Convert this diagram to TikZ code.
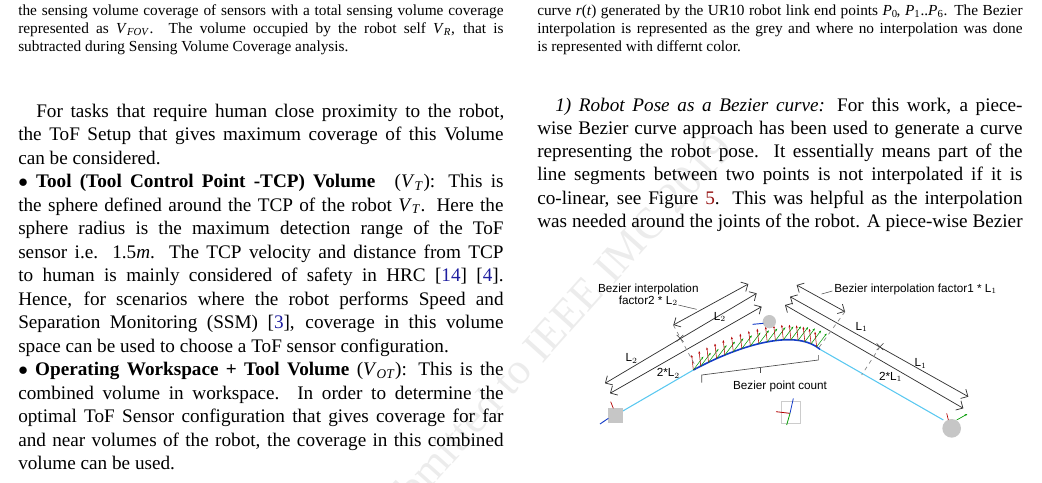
\documentclass[tikz,border=0pt]{standalone}
\usepackage{fontspec}
\setmainfont{Liberation Serif}
\newfontfamily\figsans{Liberation Sans}
\usetikzlibrary{arrows.meta}
\definecolor{refblue}{RGB}{30,30,160}
\definecolor{refred}{RGB}{150,20,20}
\definecolor{cyanl}{RGB}{90,200,240}
\definecolor{blued}{RGB}{20,60,200}
\newcommand{\jl}[1]{\makebox[364pt][s]{#1}}
\newcommand{\jr}[1]{\makebox[364pt][s]{#1}}
\newcommand{\vv}[2]{\textit{#1}\textsubscript{\textit{#2}}}
\begin{document}
\begin{tikzpicture}[x=0.75pt,y=-0.75pt,
  body/.style={anchor=base west,inner sep=0pt,font=\fontsize{14.4}{17.3}\selectfont},
  captxt/.style={anchor=base west,inner sep=0pt,font=\fontsize{11.5}{13.8}\selectfont},
  lbl/.style={inner sep=0pt,font=\figsans\fontsize{8.8}{10}\selectfont},
  dim/.style={draw=black!80,line width=0.55pt,{Straight Barb[length=4pt]}-{Straight Barb[length=4pt]}},
  dsh/.style={draw=gray,dashed,line width=0.5pt}]
\useasboundingbox (0,0) rectangle (1042,482);
% watermark
\node[rotate=48,text=gray!15,font=\fontsize{33}{33}\selectfont] (wm) at (548,335) {Submitted to IEEE IMC 2019};
% captions
\node[captxt] (c1) at (18,15) {\makebox[364pt][s]{the sensing volume coverage of sensors with a total sensing volume coverage}};
\node[captxt] (c2) at (18,33) {\makebox[364pt][s]{represented as \vv{V}{FOV}. The volume occupied by the robot self \vv{V}{R}, that is}};
\node[captxt] (c3) at (18,51) {subtracted during Sensing Volume Coverage analysis.};
\node[captxt] (d1) at (537,15) {\makebox[364pt][s]{curve \textit{r}(\textit{t}) generated by the UR10 robot link end points \vv{P}{\upshape 0}\kern-1pt, \vv{P}{\upshape 1}..\vv{P}{\upshape 6}. The Bezier}};
\node[captxt] (d2) at (537,33) {\makebox[364pt][s]{interpolation is represented as the grey and where no interpolation was done}};
\node[captxt] (d3) at (537,51) {is represented with differnt color.};
% left column
\def\lb#1{117+23.5*#1}
\node[body] (l0) at (36,{\lb0}) {\makebox[351pt][s]{For tasks that require human close proximity to the robot,}};
\node[body] (l1) at (18,{\lb1}) {\jl{the ToF Setup that gives maximum coverage of this Volume}};
\node[body] (l2) at (18,{\lb2}) {can be considered.};
\node[body] (l3) at (18,{\lb3}) {\jl{$\bullet$ \textbf{Tool (Tool Control Point -TCP) Volume}\quad (\vv{V}{T}): This is}};
\node[body] (l4) at (18,{\lb4}) {\jl{the sphere defined around the TCP of the robot \vv{V}{T}. Here the}};
\node[body] (l5) at (18,{\lb5}) {\jl{sphere radius is the maximum detection range of the ToF}};
\node[body] (l6) at (18,{\lb6}) {\jl{sensor i.e. 1.5\textit{m}. The TCP velocity and distance from TCP}};
\node[body] (l7) at (18,{\lb7}) {\jl{to human is mainly considered of safety in HRC [\textcolor{refblue}{14}] [\textcolor{refblue}{4}].}};
\node[body] (l8) at (18,{\lb8}) {\jl{Hence, for scenarios where the robot performs Speed and}};
\node[body] (l9) at (18,{\lb9}) {\jl{Separation Monitoring (SSM) [\textcolor{refblue}{3}], coverage in this volume}};
\node[body] (l10) at (18,{\lb{10}}) {space can be used to choose a ToF sensor configuration.};
\node[body] (l11) at (18,{\lb{11}}) {\jl{$\bullet$ \textbf{Operating Workspace + Tool Volume} (\vv{V}{OT}): This is the}};
\node[body] (l12) at (18,{\lb{12}}) {\jl{combined volume in workspace. In order to determine the}};
\node[body] (l13) at (18,{\lb{13}}) {\jl{optimal ToF Sensor configuration that gives coverage for far}};
\node[body] (l14) at (18,{\lb{14}}) {\jl{and near volumes of the robot, the coverage in this combined}};
\node[body] (l15) at (18,{\lb{15}}) {volume can be used.};
% right column
\def\rb#1{111+23.3*#1}
\node[body] (r0) at (555,{\rb0}) {\makebox[350.5pt][s]{\textit{1) Robot Pose as a Bezier curve:} For this work, a piece-}};
\node[body] (r1) at (537,{\rb1}) {\jr{wise Bezier curve approach has been used to generate a curve}};
\node[body] (r2) at (537,{\rb2}) {\jr{representing the robot pose. It essentially means part of the}};
\node[body] (r3) at (537,{\rb3}) {\jr{line segments between two points is not interpolated if it is}};
\node[body] (r4) at (537,{\rb4}) {\jr{co-linear, see Figure \textcolor{refred}{5}. This was helpful as the interpolation}};
\node[body] (r5) at (537,{\rb5}) {\jr{was needed around the joints of the robot. A piece-wise Bezier}};
% figure (zoom coordinates)
\begin{scope}[shift={(560,260)},x=0.25pt,y=-0.25pt]
  \coordinate (pa) at (185,455);
  \coordinate (pb) at (400,330);
  \coordinate (pc) at (780,268);
  \coordinate (pd) at (1150,480);
  \draw[cyanl,line width=0.8pt] (pa) -- (pb);
  \draw[cyanl,line width=0.8pt] (pc) -- (pd);
  \draw[blued,line width=1.2pt] (pb) .. controls (520,265) and (700,200) .. (pc);
  \foreach \t in {0,0.06,...,1.0}{
    \path (pb) .. controls (520,265) and (700,200) .. (pc) coordinate[pos=\t] (q);
    \draw[red!70!black,line width=0.4pt,-{Stealth[length=2pt]}] (q) -- ++(-5,-45);
    \draw[green!60!black,line width=0.4pt,-{Stealth[length=2pt]}] (q) -- ++(30,-40);
  }
  \fill[gray!45] (145,445) rectangle (190,488);
  \draw[blued,line width=0.7pt] (145,475) -- (120,492);
  \draw[red!70!black,line width=0.5pt] (160,445) -- (152,425);
  \fill[gray!45] (628,185) circle (20);
  \draw[blued,line width=0.7pt] (610,190) -- (578,193);
  \fill[gray!45] (1175,505) circle (28);
  \draw[red!70!black,line width=0.5pt] (1165,480) -- (1160,460);
  \draw[green!60!black,line width=0.5pt,-{Stealth[length=2pt]}] (1190,480) -- (1222,462);
  \draw[gray!40] (665,425) rectangle (720,490);
  \draw[red!70!black,line width=0.6pt] (690,460) -- (648,455);
  \draw[blued,line width=0.6pt] (690,460) -- (700,415);
  \draw[green!60!black,line width=0.6pt] (690,460) -- (680,495);
  \coordinate (mL) at (360,235);
  \coordinate (mR) at (960,260);
  \draw[dim] (135,370) -- (590,100);
  \draw[dim] (340,195) -- (565,72);
  \draw[dim] (150,400) -- (605,140);
  \draw[dim] (710,75) -- (855,155);
  \draw[dim] (690,110) -- (1225,410);
  \draw[dim] (675,135) -- (1210,445);
  \draw[black!80] (mL) ++(-10,-10) -- ++(20,20) (mL) ++(-10,10) -- ++(20,-20);
  \draw[black!80] (mR) ++(-10,-10) -- ++(20,20) (mR) ++(-10,10) -- ++(20,-20);
  \draw[dsh] (340,195) -- (410,325);
  \draw[dsh] (855,155) -- (775,265);
  \draw[dsh] (mR) -- (905,345);
  \draw[black!70,line width=0.5pt] (425,368) -- (425,345) -- (775,300) -- (775,285);
  \draw[black!70,line width=0.5pt] (600,323) -- (600,340);
  \node[lbl,align=center] (t1) at (265,105) {Bezier interpolation\\[-1pt]factor2 * L$_2$};
  \draw[black!70,line width=0.4pt] (355,135) -- (410,148);
  \node[lbl,anchor=west] (t2) at (822,88) {Bezier interpolation factor1 * L$_1$};
  \draw[black!70,line width=0.4pt] (t2.west) ++(-5,5) -- (785,102);
  \node[lbl] (t3) at (215,295) {L$_2$};
  \node[lbl] (t4) at (480,170) {L$_2$};
  \node[lbl] (t5) at (325,340) {2*L$_2$};
  \node[lbl] (t6) at (905,200) {L$_1$};
  \node[lbl] (t7) at (1082,310) {L$_1$};
  \node[lbl] (t8) at (992,350) {2*L$_1$};
  \node[lbl] (t9) at (660,378) {Bezier point count};
\end{scope}
\end{tikzpicture}
\end{document}
